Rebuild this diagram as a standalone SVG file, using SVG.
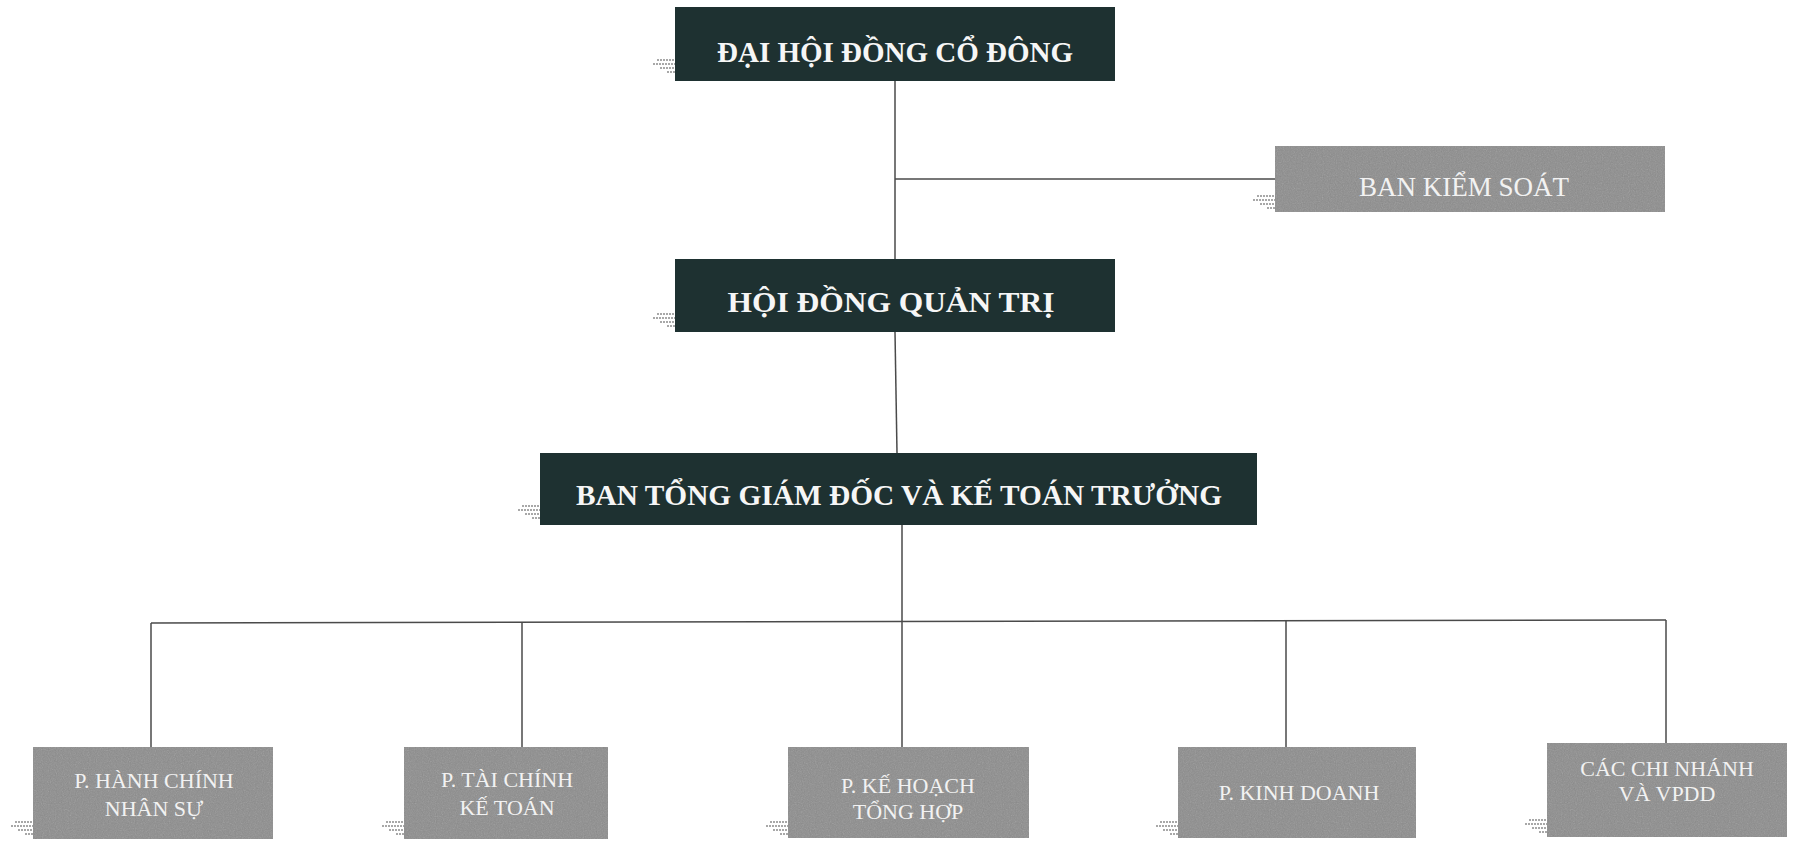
<svg xmlns="http://www.w3.org/2000/svg" width="1798" height="864" viewBox="0 0 1798 864">
  <style>
    .dark { fill: #1e3131; }
    .grey { fill: #8c8c8c; }
    .grain { filter: url(#grain); opacity: 0.3; }
    .tdark { font-family: "Liberation Serif", "Times New Roman", serif; font-weight: bold; fill: #f6f6f6; text-anchor: middle; }
    .tgrey { font-family: "Liberation Serif", "Times New Roman", serif; fill: #f2f2f2; text-anchor: middle; }
    .conn { stroke: #4a4a4a; stroke-width: 1.5; fill: none; }
    .stub line { stroke: #8c8c8c; stroke-width: 1.5; stroke-dasharray: 2 1; }
  </style>
  <defs>
    <filter id="grain" x="0" y="0" width="1" height="1">
      <feTurbulence type="fractalNoise" baseFrequency="0.85" numOctaves="2" seed="7" result="noise"/>
      <feColorMatrix in="noise" type="saturate" values="0"/>
    </filter>
    <g id="stub" class="stub">
      <line x1="4" y1="2" x2="22" y2="2"/>
      <line x1="0" y1="6" x2="22" y2="6"/>
      <line x1="7" y1="10" x2="22" y2="10"/>
      <line x1="14" y1="14" x2="22" y2="14"/>
    </g>
  </defs>
  <rect width="1798" height="864" fill="#ffffff"/>

  <g id="connectors">
    <line class="conn" x1="895" y1="81" x2="895" y2="259"/>
    <line class="conn" x1="895" y1="179" x2="1275" y2="179"/>
    <line class="conn" x1="895" y1="332" x2="897" y2="453"/>
    <line class="conn" x1="902" y1="525" x2="902" y2="747"/>
    <line class="conn" x1="151" y1="623" x2="1666" y2="620"/>
    <line class="conn" x1="151" y1="623" x2="151" y2="747"/>
    <line class="conn" x1="522" y1="622" x2="522" y2="747"/>
    <line class="conn" x1="1286" y1="621" x2="1286" y2="747"/>
    <line class="conn" x1="1666" y1="620" x2="1666" y2="743"/>
  </g>

  <g id="dai-hoi-dong-co-dong">
    <use href="#stub" x="653" y="58"/>
    <rect class="dark" x="675" y="7" width="440" height="74"/>
    <text class="tdark" x="895" y="62" font-size="29" textLength="356" lengthAdjust="spacingAndGlyphs">ĐẠI HỘI ĐỒNG CỔ ĐÔNG</text>
  </g>

  <g id="ban-kiem-soat">
    <use href="#stub" x="1253" y="194"/>
    <rect class="grey" x="1275" y="146" width="390" height="66"/>
    <rect class="grain" x="1275" y="146" width="390" height="66"/>
    <text class="tgrey" x="1464" y="196" font-size="27">BAN KIỂM SOÁT</text>
  </g>

  <g id="hoi-dong-quan-tri">
    <use href="#stub" x="653" y="312"/>
    <rect class="dark" x="675" y="259" width="440" height="73"/>
    <text class="tdark" x="891" y="312" font-size="30" textLength="327" lengthAdjust="spacingAndGlyphs">HỘI ĐỒNG QUẢN TRỊ</text>
  </g>

  <g id="ban-tong-giam-doc">
    <use href="#stub" x="518" y="504"/>
    <rect class="dark" x="540" y="453" width="717" height="72"/>
    <text class="tdark" x="899" y="505" font-size="29" textLength="646" lengthAdjust="spacingAndGlyphs">BAN TỔNG GIÁM ĐỐC VÀ KẾ TOÁN TRƯỞNG</text>
  </g>

  <g id="p-hanh-chinh-nhan-su">
    <use href="#stub" x="11" y="820"/>
    <rect class="grey" x="33" y="747" width="240" height="92"/>
    <rect class="grain" x="33" y="747" width="240" height="92"/>
    <text class="tgrey" x="154" y="788" font-size="22">P. HÀNH CHÍNH</text>
    <text class="tgrey" x="154" y="816" font-size="22">NHÂN SỰ</text>
  </g>

  <g id="p-tai-chinh-ke-toan">
    <use href="#stub" x="382" y="820"/>
    <rect class="grey" x="404" y="747" width="204" height="92"/>
    <rect class="grain" x="404" y="747" width="204" height="92"/>
    <text class="tgrey" x="507" y="787" font-size="22">P. TÀI CHÍNH</text>
    <text class="tgrey" x="507" y="815" font-size="22">KẾ TOÁN</text>
  </g>

  <g id="p-ke-hoach-tong-hop">
    <use href="#stub" x="766" y="820"/>
    <rect class="grey" x="788" y="747" width="241" height="91"/>
    <rect class="grain" x="788" y="747" width="241" height="91"/>
    <text class="tgrey" x="908" y="793" font-size="22">P. KẾ HOẠCH</text>
    <text class="tgrey" x="908" y="819" font-size="22">TỔNG HỢP</text>
  </g>

  <g id="p-kinh-doanh">
    <use href="#stub" x="1156" y="820"/>
    <rect class="grey" x="1178" y="747" width="238" height="91"/>
    <rect class="grain" x="1178" y="747" width="238" height="91"/>
    <text class="tgrey" x="1299" y="800" font-size="22">P. KINH DOANH</text>
  </g>

  <g id="cac-chi-nhanh-va-vpdd">
    <use href="#stub" x="1525" y="818"/>
    <rect class="grey" x="1547" y="743" width="240" height="94"/>
    <rect class="grain" x="1547" y="743" width="240" height="94"/>
    <text class="tgrey" x="1667" y="776" font-size="22">CÁC CHI NHÁNH</text>
    <text class="tgrey" x="1667" y="801" font-size="22">VÀ VPDD</text>
  </g>
</svg>
